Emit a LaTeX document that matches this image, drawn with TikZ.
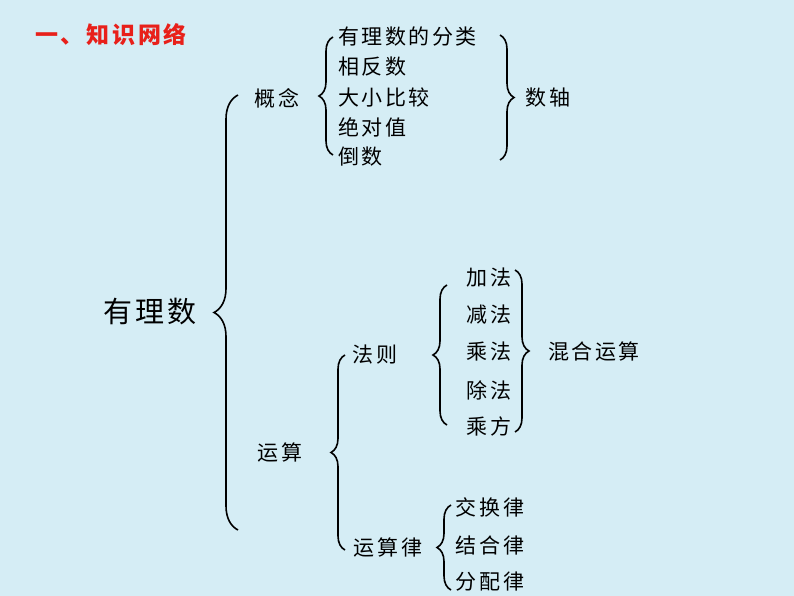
\documentclass[tikz,border=0pt]{standalone}
\usepackage{fontspec}
\setmainfont{Noto Sans CJK SC}[LetterSpace=12]
\usetikzlibrary{decorations.pathreplacing}
\definecolor{bg}{HTML}{D5EDF5}
\definecolor{ttl}{HTML}{E8201A}
\begin{document}
\begin{tikzpicture}[x=1pt,y=-1pt,
  br/.style={decorate,decoration={brace,amplitude=14pt},line width=1.6pt},
  bbr/.style={decorate,decoration={brace,amplitude=24pt},line width=1.6pt},
  t/.style={font=\fontsize{21}{24}\selectfont,inner sep=0pt},
  tl/.style={t,anchor=west}]
\fill[bg] (0,0) rectangle (794,596);
\useasboundingbox (0,0) rectangle (794,596);
\node[font=\fontsize{23}{26}\selectfont\bfseries,text=ttl,anchor=west,inner sep=0pt] (title) at (35,35) {一、知识网络};
\node[t,font=\fontsize{29}{32}\selectfont] (root) at (150,312) {有理数};
\draw[bbr] (238,530) -- (238,95);
\node[t] (gn) at (277,98) {概念};
\draw[br] (333,155) -- (333,37);
\node[tl] (a1) at (338,37) {有理数的分类};
\node[tl] (a2) at (338,67) {相反数};
\node[tl] (a3) at (338,97) {大小比较};
\node[tl] (a4) at (338,127) {绝对值};
\node[tl] (a5) at (338,157) {倒数};
\draw[br] (500,35) -- (500,160);
\node[t] (sz) at (548,98) {数轴};
\node[t] (ys) at (280,453) {运算};
\draw[br] (345,550) -- (345,355);
\node[t] (fz) at (375,355) {法则};
\draw[br] (447,425) -- (447,285);
\node[t] (b1) at (489,278) {加法};
\node[t] (b2) at (489,315) {减法};
\node[t] (b3) at (489,352) {乘法};
\node[t] (b4) at (489,390) {除法};
\node[t] (b5) at (489,426) {乘方};
\draw[br] (515,270) -- (515,432);
\node[t] (hh) at (594,352) {混合运算};
\node[t] (ysl) at (388,548) {运算律};
\draw[br] (451,590) -- (451,505);
\node[t] (c1) at (490,507) {交换律};
\node[t] (c2) at (490,545) {结合律};
\node[t] (c3) at (490,582) {分配律};
\end{tikzpicture}
\end{document}
